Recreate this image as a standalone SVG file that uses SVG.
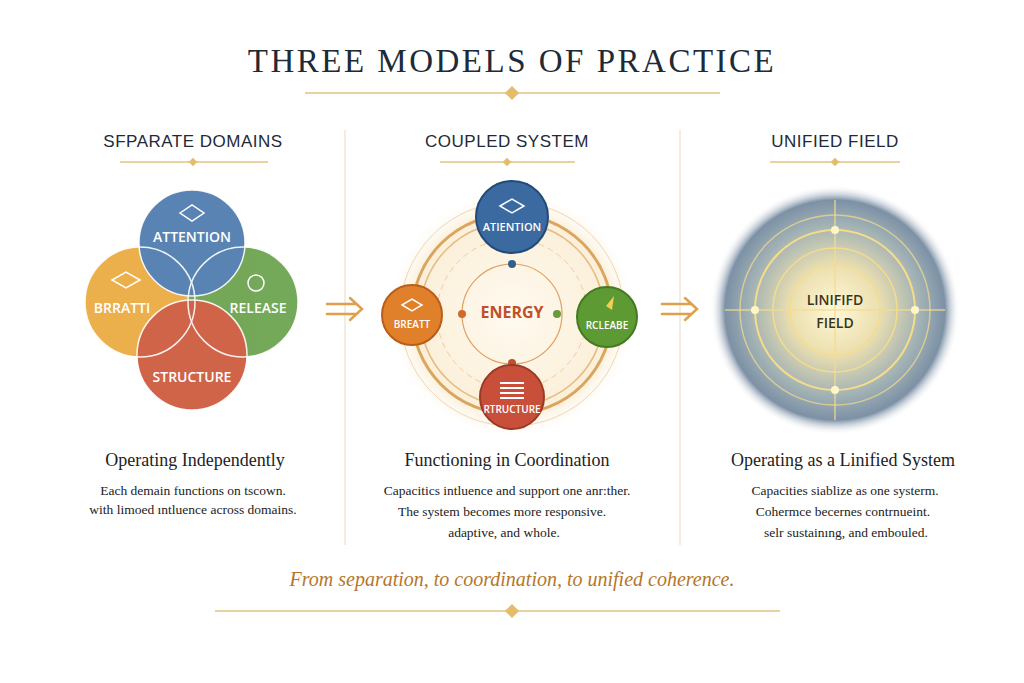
<svg xmlns="http://www.w3.org/2000/svg" width="1024" height="683" viewBox="0 0 1024 683">
<defs>
<style>
.serif{font-family:"Liberation Serif","DejaVu Serif",serif}
.sans{font-family:"Open Sans","Liberation Sans",sans-serif}
.hdr{font-family:"Liberation Sans",sans-serif;font-size:17px;fill:#1e2a36;text-anchor:middle;letter-spacing:0.5px}
.sub{font-size:18px;fill:#222;text-anchor:middle}
.body{font-size:13.5px;fill:#222;text-anchor:middle}
.lab{font-family:"Open Sans","Liberation Sans",sans-serif;font-weight:600;fill:#fff;text-anchor:middle}
.orn{stroke:#e2c37f;stroke-width:1.5}
.dia{fill:#e4bd6a}
.div{stroke:#ead9c2;stroke-width:1}
</style>
<radialGradient id="glow" cx="0.5" cy="0.5" r="0.5">
<stop offset="0" stop-color="#fff8d8"/>
<stop offset="0.35" stop-color="#ece0b0"/>
<stop offset="0.7" stop-color="#9fb0b4"/>
<stop offset="0.88" stop-color="#7d91a6"/>
<stop offset="1" stop-color="#ffffff" stop-opacity="0"/>
</radialGradient>
<radialGradient id="ringbg" cx="0.5" cy="0.5" r="0.5">
<stop offset="0" stop-color="#fffaf0"/>
<stop offset="0.8" stop-color="#fbefd9"/>
<stop offset="1" stop-color="#ffffff" stop-opacity="0"/>
</radialGradient>
</defs>
<rect width="1024" height="683" fill="#fff"/>
<text x="512" y="72" class="serif" font-size="33" fill="#1e2a36" text-anchor="middle" letter-spacing="2.5">THREE MODELS OF PRACTICE</text>
<line x1="305" y1="93" x2="720" y2="93" class="orn"/><rect x="507" y="88" width="10" height="10" class="dia" transform="rotate(45 512 93)"/>

<text x="193" y="147" class="hdr">SFPARATE DOMAINS</text>
<text x="507" y="147" class="hdr">COUPLED SYSTEM</text>
<text x="835" y="147" class="hdr">UNIFIED FIELD</text>
<g class="orn"><line x1="120" y1="162" x2="268" y2="162"/><line x1="440" y1="162" x2="575" y2="162"/><line x1="770" y1="162" x2="900" y2="162"/></g>
<g class="dia"><rect x="190" y="159" width="6" height="6" transform="rotate(45 193 162)"/><rect x="504" y="159" width="6" height="6" transform="rotate(45 507 162)"/><rect x="832" y="159" width="6" height="6" transform="rotate(45 835 162)"/></g>

<line x1="345" y1="130" x2="345" y2="545" class="div"/>
<line x1="680" y1="130" x2="680" y2="545" class="div"/>

<g id="connectors" fill="none" stroke="#e0a04a" stroke-width="2.5" stroke-linecap="round">
<path d="M327 304 H356 M327 314 H356 M350 298 L362 309 L350 320"/>
<path d="M662 304 H691 M662 314 H691 M685 298 L697 309 L685 320"/>
<line x1="512" y1="252" x2="512" y2="264" stroke="#2f5f8f" stroke-width="2"/>
<line x1="442" y1="314" x2="462" y2="314" stroke="#d06a2a" stroke-width="2"/>
<line x1="557" y1="314" x2="577" y2="314" stroke="#6a9a3a" stroke-width="2"/>
<line x1="512" y1="352" x2="512" y2="366" stroke="#c0502a" stroke-width="2"/>
</g>

<g id="separate">
<g opacity="0.85">
<circle id="s-breath" cx="140" cy="302" r="55" fill="#e8a32c"/>
<circle id="s-release" cx="243" cy="302" r="55" fill="#5c9a3c"/>
<circle id="s-attention" cx="192" cy="243" r="53" fill="#3c6ea6"/>
<circle id="s-structure" cx="192" cy="355" r="55" fill="#c84a2a"/>
</g>
<g fill="none" stroke="#fff" stroke-width="1.5" opacity="0.9">
<circle cx="140" cy="302" r="55"/><circle cx="243" cy="302" r="55"/><circle cx="192" cy="243" r="53"/><circle cx="192" cy="355" r="55"/>
</g>
<path d="M180 213 L192 205 L204 213 L192 221 Z" fill="none" stroke="#fff" stroke-width="1.5"/>
<path d="M112 280 L126 272 L140 280 L126 288 Z" fill="none" stroke="#fff" stroke-width="1.5"/>
<circle cx="256" cy="283" r="8" fill="none" stroke="#fff" stroke-width="1.5"/>
<text x="192" y="242" class="lab" font-size="14">ATTENTION</text>
<text x="122" y="313" class="lab" font-size="14">BRRATTI</text>
<text x="258" y="313" class="lab" font-size="14">RELEASE</text>
<text x="192" y="382" class="lab" font-size="14">STRUCTURE</text>
</g>

<g id="coupled">
<circle cx="512" cy="314" r="125" fill="url(#ringbg)"/>
<circle cx="512" cy="314" r="112" fill="none" stroke="#f0d7b0" stroke-width="1"/>
<circle cx="512" cy="314" r="100" fill="none" stroke="#d9a660" stroke-width="3"/>
<circle cx="512" cy="314" r="92" fill="none" stroke="#e4bb80" stroke-width="1.5"/>
<circle cx="512" cy="314" r="75" fill="none" stroke="#efcfa0" stroke-width="1" stroke-dasharray="6 4"/>
<circle cx="512" cy="314" r="50" fill="none" stroke="#e0a060" stroke-width="1.2"/>
<text x="512" y="318" class="sans" font-weight="700" font-size="16" fill="#c0502a" text-anchor="middle">ENERGY</text>
<circle cx="512" cy="264" r="4" fill="#2f5f8f"/>
<circle cx="462" cy="314" r="4" fill="#d06a2a"/>
<circle cx="557" cy="314" r="4" fill="#6a9a3a"/>
<circle cx="512" cy="363" r="4" fill="#c0502a"/>
<g id="c-attention"><circle cx="512" cy="217" r="36" fill="#3a6aa0" stroke="#244a78" stroke-width="2"/><path d="M500 206 L512 199 L524 206 L512 213 Z" fill="none" stroke="#fff" stroke-width="1.5"/><text x="512" y="231" class="lab" font-size="11">ATIENTION</text></g>
<g id="c-breath"><circle cx="412" cy="315" r="30" fill="#e0802a" stroke="#b85e1a" stroke-width="2"/><path d="M402 305 L412 299 L422 305 L412 311 Z" fill="none" stroke="#fff" stroke-width="1.5"/><text x="412" y="328" class="lab" font-size="10">BREATT</text></g>
<g id="c-release"><circle cx="607" cy="317" r="30" fill="#5e9a34" stroke="#437a22" stroke-width="2"/><path d="M606 306 L614 296 L612 310 Z" fill="#f0d050"/><text x="607" y="329" class="lab" font-size="10">RCLEABE</text></g>
<g id="c-structure"><circle cx="512" cy="397" r="32" fill="#c8503a" stroke="#9a3a24" stroke-width="2"/><path d="M500 383 H524 M500 388 H524 M500 393 H524 M500 398 H524" stroke="#fff" stroke-width="2"/><text x="512" y="413" class="lab" font-size="10">RTRUCTURE</text></g>
</g>

<g id="unified">
<circle cx="835" cy="310" r="125" fill="url(#glow)"/>
<g fill="none" stroke="#f6dc8a">
<circle cx="835" cy="310" r="95" stroke-width="1.5" opacity="0.7"/>
<circle cx="835" cy="310" r="80" stroke-width="2"/>
<circle cx="835" cy="310" r="62" stroke-width="1.5"/>
<circle cx="835" cy="310" r="45" stroke-width="1.2"/>
<line x1="835" y1="200" x2="835" y2="420" stroke-width="1.5" opacity="0.8"/>
<line x1="725" y1="310" x2="945" y2="310" stroke-width="1.5" opacity="0.8"/>
</g>
<g fill="#fff6c8"><circle cx="755" cy="310" r="4"/><circle cx="915" cy="310" r="4"/><circle cx="835" cy="230" r="4"/><circle cx="835" cy="390" r="4"/></g>
<text x="835" y="305" class="sans" font-weight="600" font-size="14" fill="#3a3520" text-anchor="middle">LINIFIFD</text>
<text x="835" y="328" class="sans" font-weight="600" font-size="14" fill="#3a3520" text-anchor="middle">FIELD</text>
</g>

<g class="serif">
<text x="195" y="466" class="sub">Operating Independently</text>
<text x="193" y="495" class="body">Each demain functions on tscown.</text>
<text x="193" y="514" class="body">with limoed ıntluence across domains.</text>
<text x="507" y="466" class="sub">Functioning in Coordination</text>
<text x="507" y="495" class="body">Capacitics intluence and support one anr:ther.</text>
<text x="502" y="516" class="body">The system becomes more responsive.</text>
<text x="504" y="537" class="body">adaptive, and whole.</text>
<text x="843" y="466" class="sub">Operating as a Linified System</text>
<text x="845" y="495" class="body">Capacities siablize as one systerm.</text>
<text x="843" y="516" class="body">Cohermce becernes contrnueint.</text>
<text x="846" y="537" class="body">selr sustainıng, and embouled.</text>
<text x="512" y="586" font-size="20" font-style="italic" fill="#b5762a" text-anchor="middle">From separation, to coordination, to unified coherence.</text>
</g>
<line x1="215" y1="611" x2="780" y2="611" class="orn"/><rect x="507" y="606" width="10" height="10" class="dia" transform="rotate(45 512 611)"/>
</svg>
